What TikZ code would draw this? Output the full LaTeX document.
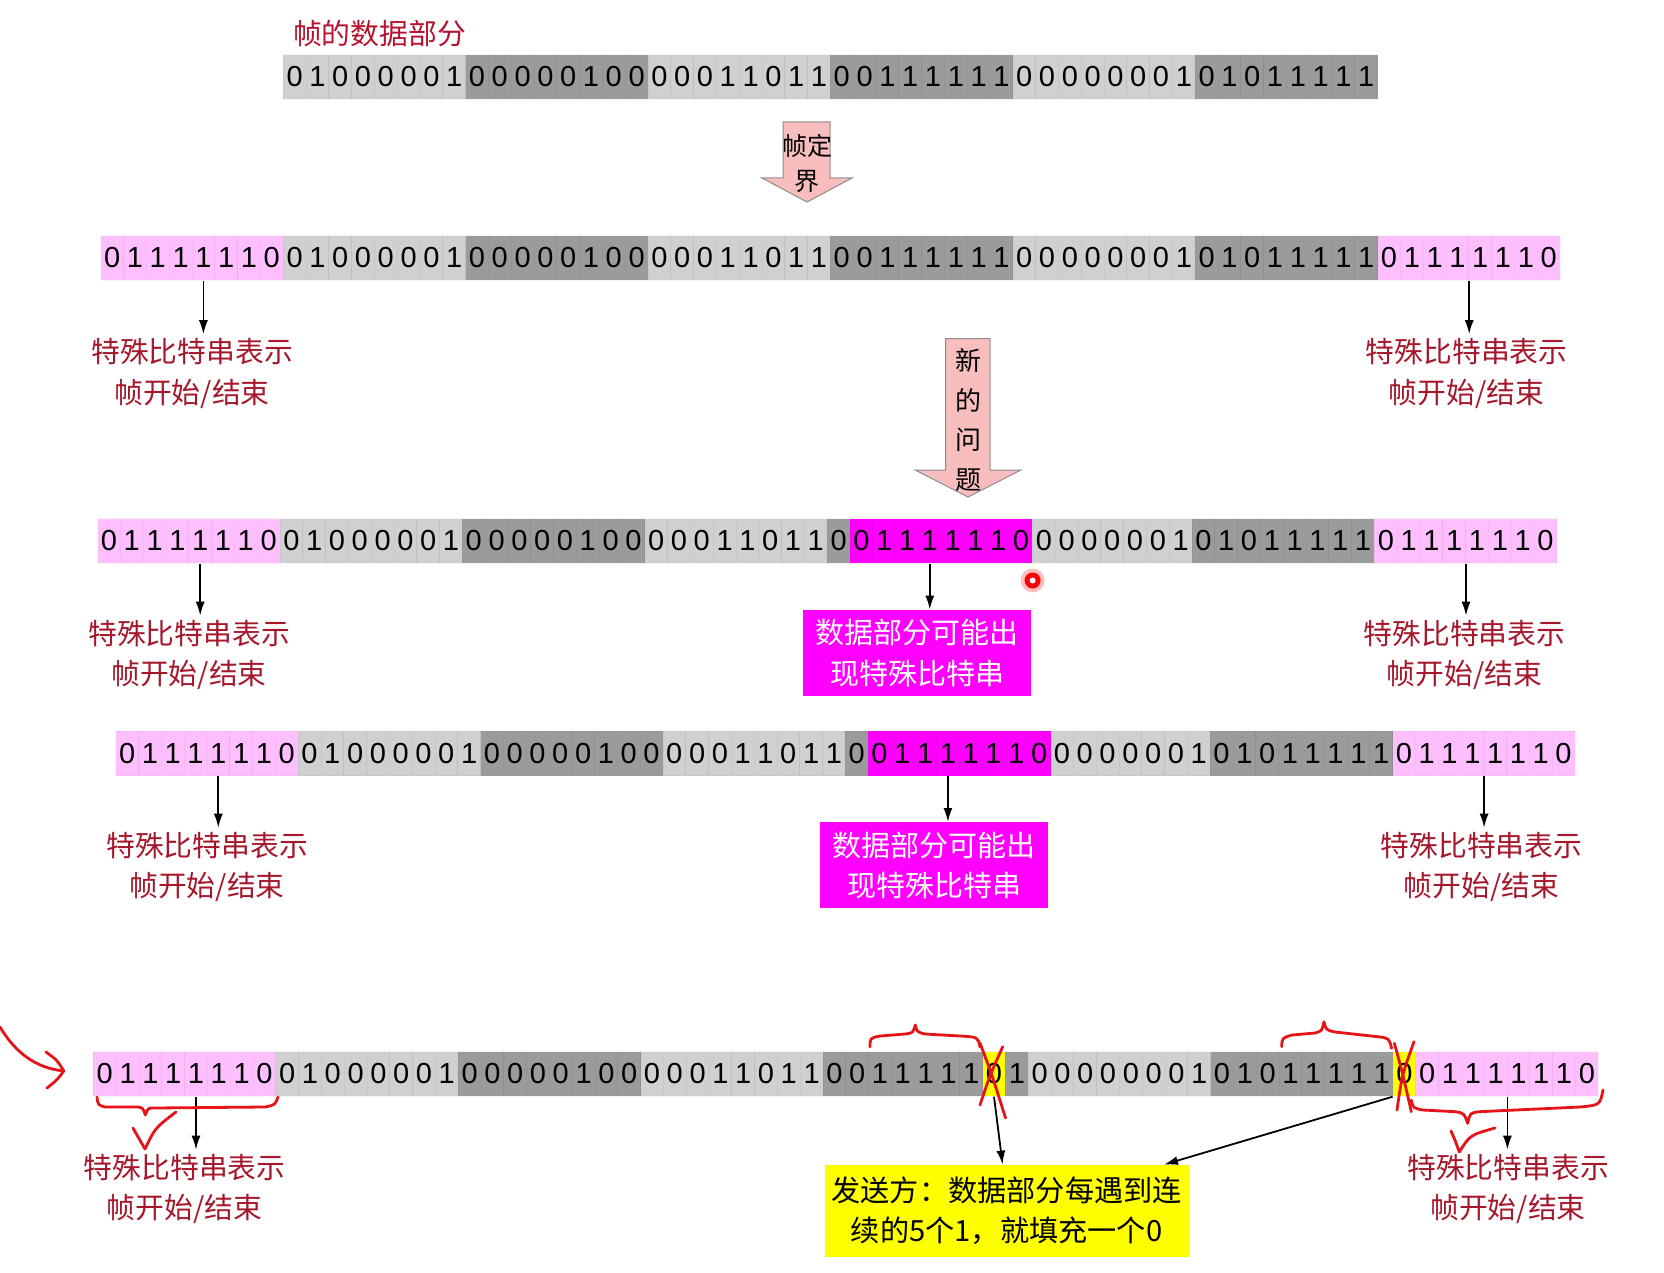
\documentclass[tikz,border=0pt]{standalone}
\usepackage{fontspec}
\setmainfont{Liberation Sans}
\newfontfamily\cjk{Noto Sans CJK SC}
\usetikzlibrary{arrows.meta}

\definecolor{litegrey}{RGB}{208,207,210}
\definecolor{darkgrey}{RGB}{155,154,157}
\definecolor{flagpink}{RGB}{255,191,255}
\definecolor{hotpink}{RGB}{255,0,255}
\definecolor{stuffyellow}{RGB}{255,255,0}
\definecolor{labelred}{RGB}{165,24,43}
\definecolor{titlered}{RGB}{181,18,46}
\definecolor{inkred}{RGB}{230,20,25}
\definecolor{arrowpink}{RGB}{248,190,190}

\newcommand\cw{22.8}
% one row of bits: name, left x, middle y, start/colour/bits
\newcommand\bitrow[4]{%
  \foreach \st/\col/\bb in {#4}{
    \foreach \bit [count=\k from \st] in \bb
      \node[cell, fill=\col] (#1-\k) at ({#2+(\k+0.5)*\cw}, #3) {\bit};
  }
}

\begin{document}
\begin{tikzpicture}[x=0.5pt, y=-0.5pt,
    cell/.style={minimum width=11.4pt, minimum height=22.3pt, inner sep=0pt,
      draw=black, draw opacity=0.035, line width=0.4pt,
      font=\fontsize{14.5}{16}\selectfont},
    lab/.style={font=\cjk\fontsize{14.4}{20.2}\selectfont, text=labelred,
      align=center, inner sep=2pt},
    mag/.style={fill=hotpink, text=white, font=\cjk\fontsize{14.5}{20.2}\selectfont,
      align=center, minimum width=114pt, minimum height=43pt, inner sep=0pt},
    ybox/.style={fill=stuffyellow, font=\cjk\fontsize{14.6}{20.1}\selectfont,
      align=center, minimum width=182pt, minimum height=46pt, inner sep=0pt},
    pt/.style={-{Latex[length=7pt,width=4.5pt]}, line width=0.9pt},
    parrow/.style={fill=arrowpink, draw=black!45, line width=0.5pt},
    ptext/.style={font=\cjk\fontsize{12.5}{17.5}\selectfont, align=center, inner sep=0pt},
    ink/.style={draw=inkred, line width=1.4pt, line cap=round, line join=round}]

  \useasboundingbox (0,0) rectangle (1664,1273);

  % data part
  \node[font=\cjk\fontsize{14.4}{17}\selectfont, text=titlered, anchor=west] (ttl) at (286,34) {帧的数据部分};
  \bitrow{r1}{100.8}{77}{8/litegrey/{0,1,0,0,0,0,0,1}, 16/darkgrey/{0,0,0,0,0,1,0,0},
    24/litegrey/{0,0,0,1,1,0,1,1}, 32/darkgrey/{0,0,1,1,1,1,1,1},
    40/litegrey/{0,0,0,0,0,0,0,1}, 48/darkgrey/{0,1,0,1,1,1,1,1}}

  % framing arrow
  \filldraw[parrow] (783,122) -- (830,122) -- (830,178) -- (852,178) -- (807,202)
    -- (762,178) -- (783,178) -- cycle;
  \node[ptext] (fd) at (807,163) {帧定\\界};

  % framed
  \bitrow{r2}{100.8}{258}{0/flagpink/{0,1,1,1,1,1,1,0}, 8/litegrey/{0,1,0,0,0,0,0,1},
    16/darkgrey/{0,0,0,0,0,1,0,0}, 24/litegrey/{0,0,0,1,1,0,1,1},
    32/darkgrey/{0,0,1,1,1,1,1,1}, 40/litegrey/{0,0,0,0,0,0,0,1},
    48/darkgrey/{0,1,0,1,1,1,1,1}, 56/flagpink/{0,1,1,1,1,1,1,0}}
  \node[lab] (l2a) at (192,373.5) {特殊比特串表示\\帧开始/结束};
  \node[lab] (l2b) at (1466.6,373.5) {特殊比特串表示\\帧开始/结束};
  \draw[pt] (r2-4.south) -- (r2-4.south |- l2a.north);
  \draw[pt] (r2-59.south east) -- (r2-59.south east |- l2b.north);

  % new problem arrow
  \filldraw[parrow] (945.5,338.5) -- (990,338.5) -- (990,470) -- (1021,470) -- (968,497)
    -- (915,470) -- (945.5,470) -- cycle;
  \node[ptext, font=\cjk\fontsize{13}{19.8}\selectfont] (np) at (968,420) {新\\的\\问\\题};

  % special string in the data
  \bitrow{r3}{97.6}{541}{0/flagpink/{0,1,1,1,1,1,1,0}, 8/litegrey/{0,1,0,0,0,0,0,1},
    16/darkgrey/{0,0,0,0,0,1,0,0}, 24/litegrey/{0,0,0,1,1,0,1,1},
    32/darkgrey/{0}, 33/hotpink/{0,1,1,1,1,1,1,0}, 41/litegrey/{0,0,0,0,0,0,1},
    48/darkgrey/{0,1,0,1,1,1,1,1}, 56/flagpink/{0,1,1,1,1,1,1,0}}
  \node[lab] (l3a) at (189,655) {特殊比特串表示\\帧开始/结束};
  \node[lab] (l3b) at (1464.5,655) {特殊比特串表示\\帧开始/结束};
  \node[mag] (m3) at (917.4,653) {数据部分可能出\\现特殊比特串};
  \draw[pt] (r3-4.south) -- (r3-4.south |- l3a.north);
  \draw[pt] (r3-36.south) -- (r3-36.south |- m3.north);
  \draw[pt] (r3-59.south east) -- (r3-59.south east |- l3b.north);
  \fill[red!25] (1032.6,580.5) circle (6pt);
  \fill[red] (1032.6,580.5) circle (4pt);
  \fill[white] (1032.6,580.5) circle (1.5pt);

  \bitrow{r4}{115.7}{753.5}{0/flagpink/{0,1,1,1,1,1,1,0}, 8/litegrey/{0,1,0,0,0,0,0,1},
    16/darkgrey/{0,0,0,0,0,1,0,0}, 24/litegrey/{0,0,0,1,1,0,1,1},
    32/darkgrey/{0}, 33/hotpink/{0,1,1,1,1,1,1,0}, 41/litegrey/{0,0,0,0,0,0,1},
    48/darkgrey/{0,1,0,1,1,1,1,1}, 56/flagpink/{0,1,1,1,1,1,1,0}}
  \node[lab] (l4a) at (207,867) {特殊比特串表示\\帧开始/结束};
  \node[lab] (l4b) at (1481.4,867) {特殊比特串表示\\帧开始/结束};
  \node[mag] (m4) at (934.4,865.4) {数据部分可能出\\现特殊比特串};
  \draw[pt] (r4-4.south) -- (r4-4.south |- l4a.north);
  \draw[pt] (r4-36.south) -- (r4-36.south |- m4.north);
  \draw[pt] (r4-59.south east) -- (r4-59.south east |- l4b.north);

  % bit stuffing
  \bitrow{r5}{93.4}{1074}{0/flagpink/{0,1,1,1,1,1,1,0}, 8/litegrey/{0,1,0,0,0,0,0,1},
    16/darkgrey/{0,0,0,0,0,1,0,0}, 24/litegrey/{0,0,0,1,1,0,1,1},
    32/darkgrey/{0,0,1,1,1,1,1}, 39/stuffyellow/{0}, 40/darkgrey/{1},
    41/litegrey/{0,0,0,0,0,0,0,1}, 49/darkgrey/{0,1,0,1,1,1,1,1},
    57/stuffyellow/{0}, 58/flagpink/{0,1,1,1,1,1,1,0}}
  \node[lab] (l5a) at (184.6,1189) {特殊比特串表示\\帧开始/结束};
  \node[lab] (l5b) at (1508,1189) {特殊比特串表示\\帧开始/结束};
  \node[ybox] (yb) at (1006.6,1211) {发送方：数据部分每遇到连\\续的5个1，就填充一个0};
  \draw[pt] (r5-4.south) -- (r5-4.south |- l5a.north);
  \draw[pt] (r5-39.south) -- ([xshift=-2pt]yb.north);
  \draw[pt] (r5-57.south west) -- ([xshift=-12.5pt]yb.north east);
  \draw[pt] (r5-61.south east) -- (r5-61.south east |- l5b.north);

  % hand marks
  \draw[ink] (0,1027) .. controls (15,1052) and (35,1068) .. (63.8,1071);
  \draw[ink] (46,1052) .. controls (57,1060) .. (63.8,1071) .. controls (57,1080) .. (47,1088);
  \draw[ink] (97,1097) .. controls (98,1105) .. (105,1107) -- (138,1107)
    .. controls (143,1108) .. (145.4,1115) .. controls (148,1108) .. (154,1108)
    -- (265,1107) .. controls (275,1105) .. (278,1097);
  \draw[ink] (133,1128) .. controls (139,1139) .. (145,1149) .. controls (155,1128) .. (176,1112);
  \draw[ink] (870,1047) .. controls (870,1038) .. (880,1036) -- (905,1034)
    .. controls (913,1033) .. (915.3,1025) .. controls (917,1032) .. (925,1034)
    -- (960,1036) .. controls (978,1037) .. (980,1047);
  \draw[ink] (980,1043) .. controls (992,1075) .. (1005.5,1118);
  \draw[ink] (1002.7,1046.7) .. controls (990,1075) .. (980,1105);
  \draw[ink] (1281.7,1046.7) .. controls (1282,1038) .. (1292,1035) -- (1315,1033)
    .. controls (1322,1031) .. (1324,1021.7) .. controls (1326,1030) .. (1335,1032)
    -- (1377.5,1036.7) .. controls (1389,1038) .. (1391.6,1048.3);
  \draw[ink] (1394.4,1043.3) .. controls (1403,1075) .. (1411.3,1111.7);
  \draw[ink] (1414,1041.7) .. controls (1402,1075) .. (1397,1110);
  \draw[ink] (1411.3,1100) .. controls (1413,1108) .. (1422.6,1110) -- (1455,1111.7)
    .. controls (1464,1113) .. (1467.7,1123.3) .. controls (1470,1113) .. (1479,1111.7)
    -- (1580,1107) .. controls (1600,1105) .. (1603,1090);
  \draw[ink] (1451,1131) .. controls (1455,1140) .. (1459.3,1152) .. controls (1470,1135) .. (1495,1128);
\end{tikzpicture}
\end{document}
